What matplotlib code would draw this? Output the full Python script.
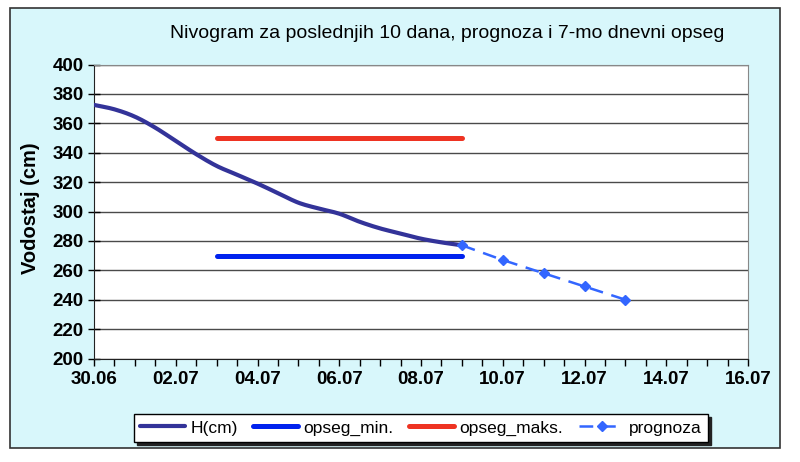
import matplotlib
matplotlib.use("Agg")
import matplotlib.pyplot as plt
from matplotlib.patches import Rectangle
import numpy as np

plt.rcParams['font.family'] = ['Liberation Sans', 'DejaVu Sans']

# ---- data ----
h_days = [0, 0.5, 1, 1.5, 2, 2.5, 3, 3.5, 4, 4.5, 5, 5.5, 6, 6.5, 7, 7.5, 8, 8.5, 9]
h_cm = [372.5, 369.5, 364.5, 357, 348, 339, 331, 325, 319, 312.5, 306, 302, 298.5,
        293, 288.5, 285, 281.5, 279, 277]
opseg_days = [3, 9]
opseg_min = [270, 270]
opseg_maks = [350, 350]
prog_days = [9, 10, 11, 12, 13]
prognoza = [277, 267, 258, 249, 240]
x_tick_pos = [0, 2, 4, 6, 8, 10, 12, 14, 16]
x_tick_labels = ['30.06', '02.07', '04.07', '06.07', '08.07', '10.07', '12.07', '14.07', '16.07']
y_ticks = list(range(200, 401, 20))

title = 'Nivogram za poslednjih 10 dana, prognoza i 7-mo dnevni opseg'
ylabel = 'Vodostaj (cm)'


def smooth(xs, ys, n=12):
    """Catmull-Rom rendering of a line (like a spreadsheet 'smoothed line')."""
    x = np.asarray(xs, float)
    y = np.asarray(ys, float)
    px = np.concatenate([[2 * x[0] - x[1]], x, [2 * x[-1] - x[-2]]])
    py = np.concatenate([[2 * y[0] - y[1]], y, [2 * y[-1] - y[-2]]])
    ox, oy = [], []
    t = np.linspace(0, 1, n, endpoint=False)
    for i in range(1, len(px) - 2):
        for arr, out in ((px, ox), (py, oy)):
            p0, p1, p2, p3 = arr[i - 1], arr[i], arr[i + 1], arr[i + 2]
            out.extend(0.5 * (2 * p1 + (-p0 + p2) * t + (2 * p0 - 5 * p1 + 4 * p2 - p3) * t ** 2
                              + (-p0 + 3 * p1 - 3 * p2 + p3) * t ** 3))
    ox.append(x[-1])
    oy.append(y[-1])
    return ox, oy


# ---- figure ----
fig = plt.figure(figsize=(8, 4.62), dpi=100)
fig.patch.set_facecolor('white')
bg = Rectangle((10 / 800, 1 - 448 / 462), 770 / 800, 440 / 462,
               transform=fig.transFigure, facecolor='#d8f7fb', edgecolor='#333333',
               linewidth=1.2, zorder=-10)
fig.patches.append(bg)

ax = fig.add_axes([94 / 800, 1 - 358.5 / 462, 654 / 800, 294 / 462])
ax.set_facecolor('white')

sx, sy = smooth(h_days, h_cm)
ax.plot(sx, sy, color='#333399', lw=3.0, solid_capstyle='round',
        solid_joinstyle='round', label='H(cm)', zorder=4)
ax.plot(opseg_days, opseg_min, color='#0022ee', lw=3.6, solid_capstyle='round',
        label='opseg_min.', zorder=3)
ax.plot(opseg_days, opseg_maks, color='#ee3322', lw=3.6, solid_capstyle='round',
        label='opseg_maks.', zorder=3)
ax.plot(prog_days, prognoza, color='#3366ff', lw=1.8, dashes=(5.5, 3.5),
        marker='D', markersize=5.5, label='prognoza', zorder=5)

ax.set_xlim(0, 16)
ax.set_ylim(200, 400)
ax.set_yticks(y_ticks)
ax.set_yticklabels([str(v) for v in y_ticks], fontweight='bold', fontsize=13.5)
ax.set_xticks(x_tick_pos)
ax.set_xticklabels(x_tick_labels, fontweight='bold', fontsize=13.5)
ax.set_xticks([i * 0.5 for i in range(33)], minor=True)
ax.tick_params(axis='y', direction='inout', length=9, width=1, pad=3)
ax.tick_params(axis='x', which='both', direction='out', length=5, width=1, pad=4)
ax.yaxis.grid(True, color='#4a4a4a', lw=1.0)
ax.set_axisbelow(True)
for side in ['top', 'right']:
    ax.spines[side].set_color('#888888')
for side in ['left', 'bottom']:
    ax.spines[side].set_color('#222222')

fig.text(447 / 800, 1 - 33 / 462, title, ha='center', va='center', fontsize=14)
fig.text(30 / 800, 1 - 208 / 462, ylabel, ha='center', va='center', rotation=90,
         fontsize=14.5, fontweight='bold')

leg = ax.legend(loc='center', bbox_to_anchor=(421 / 800, 1 - 428 / 462),
                bbox_transform=fig.transFigure, ncol=4, frameon=True, fancybox=False,
                shadow={'color': '#222222', 'alpha': 1.0}, fontsize=12.5,
                handlelength=2.6, columnspacing=0.9, handletextpad=0.3, borderpad=0.35)
leg.get_frame().set_edgecolor('black')
leg.get_frame().set_linewidth(1.0)

fig.savefig('out.png', dpi=100, facecolor=fig.get_facecolor())
